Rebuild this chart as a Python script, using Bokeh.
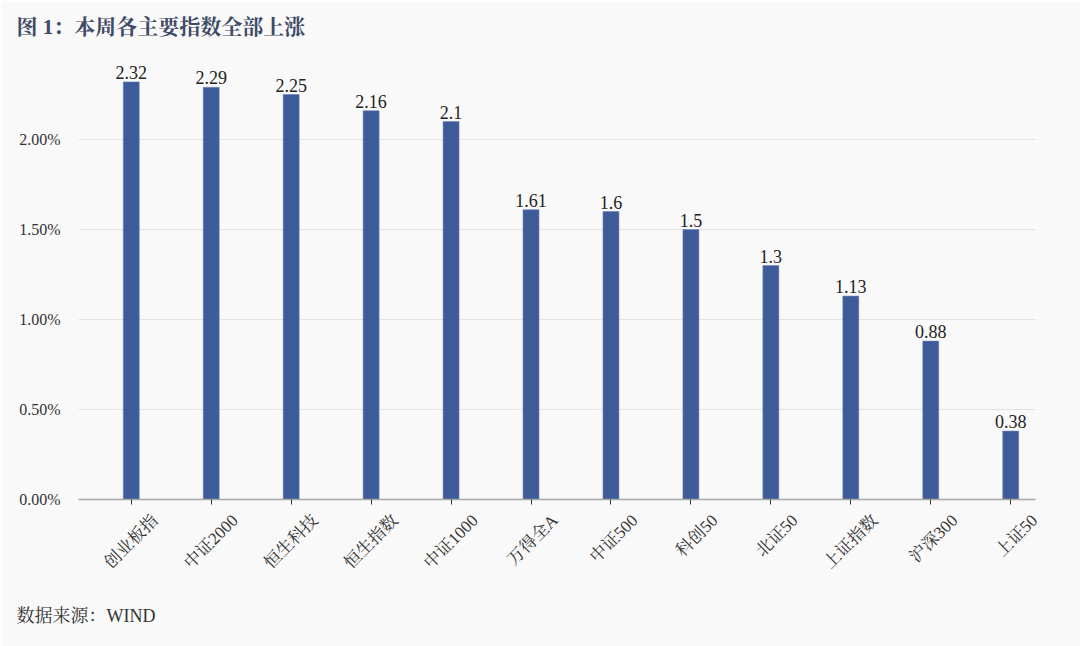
import math
from bokeh.plotting import figure
from bokeh.models import (ColumnDataSource, Title, FixedTicker, PrintfTickFormatter, Range1d,
                          LinearAxis, CustomJSTickFormatter)
from bokeh.embed import file_html
from bokeh.resources import INLINE

categories = ["创业板指", "中证2000", "恒生科技", "恒生指数", "中证1000", "万得全A",
              "中证500", "科创50", "北证50", "上证指数", "沪深300", "上证50"]
values = [2.32, 2.29, 2.25, 2.16, 2.10, 1.61, 1.60, 1.50, 1.30, 1.13, 0.88, 0.38]
y_ticks = [0.0, 0.5, 1.0, 1.5, 2.0]

FONT = "Liberation Serif, Noto Serif CJK SC, Noto Sans CJK SC"
BG = "#f9f9f9"
W, H = 1080, 646
LABEL_SHIFT = 0.3  # category-label anchor shift (in category units), like the source's rotated labels

idx = list(range(len(categories)))
src = ColumnDataSource(dict(x=idx, top=values, lab=["%g" % v for v in values]))

p = figure(width=W, height=H, output_backend="svg", toolbar_location=None,
           x_range=Range1d(-0.66, len(categories) - 1 + 0.31), y_range=Range1d(0, 2.5),
           min_border_left=78, min_border_right=45, min_border_top=49, min_border_bottom=147,
           background_fill_color=BG, border_fill_color=BG, outline_line_color=None,
           x_axis_type=None)

p.vbar(x="x", top="top", width=0.2, bottom=0, source=src,
       fill_color="#3d5b99", line_color="#6f86b8", line_width=0.6)
p.text(x="x", y="top", text="lab", source=src, text_align="center", text_baseline="bottom",
       y_offset=-3, text_font_size="18px", text_color="#222222", text_font={"value": FONT})

p.xgrid.grid_line_color = None
p.ygrid.grid_line_color = "#e2e2e2"
p.ygrid.grid_line_width = 1.2
p.ygrid.ticker = FixedTicker(ticks=y_ticks)

p.yaxis.ticker = FixedTicker(ticks=y_ticks)
p.yaxis.formatter = PrintfTickFormatter(format="%.2f%%")
p.yaxis.axis_line_color = None
p.yaxis.major_tick_line_color = None
p.yaxis.minor_tick_line_color = None
p.yaxis.major_label_text_font = FONT
p.yaxis.major_label_text_font_size = "16px"
p.yaxis.major_label_text_color = "#333333"
p.yaxis.major_label_standoff = 12

# axis line + tick marks at the category centres
ax_ticks = LinearAxis(ticker=FixedTicker(ticks=idx),
                      formatter=CustomJSTickFormatter(code="return ''"),
                      axis_line_color="#a8a8a8", axis_line_width=1.5,
                      major_tick_line_color="#333333", major_tick_in=0, major_tick_out=5,
                      minor_tick_line_color=None, major_label_standoff=0,
                      major_label_text_font_size="1px")
p.add_layout(ax_ticks, "below")

# rotated category labels
ax_labels = LinearAxis(ticker=FixedTicker(ticks=[i + LABEL_SHIFT for i in idx]),
                       formatter=CustomJSTickFormatter(args=dict(cats=categories, sh=LABEL_SHIFT),
                                                       code="return cats[Math.round(tick - sh)]"),
                       axis_line_color=None, major_tick_line_color=None, minor_tick_line_color=None,
                       major_label_orientation=math.pi / 4, major_label_standoff=7,
                       major_label_text_font=FONT, major_label_text_font_size="17px",
                       major_label_text_color="#333333")
p.add_layout(ax_labels, "below")

title = Title(text="图 1：本周各主要指数全部上涨", align="left", offset=-62, standoff=22,
              text_font=FONT, text_font_size="21px", text_font_style="bold", text_color="#3e4a66")
p.add_layout(title, "above")

footer = Title(text="数据来源：WIND", align="left", offset=-62, standoff=42,
               text_font=FONT, text_font_size="18px", text_font_style="normal", text_color="#333333")
p.add_layout(footer, "below")

open("out.html", "w").write(file_html(p, INLINE))
